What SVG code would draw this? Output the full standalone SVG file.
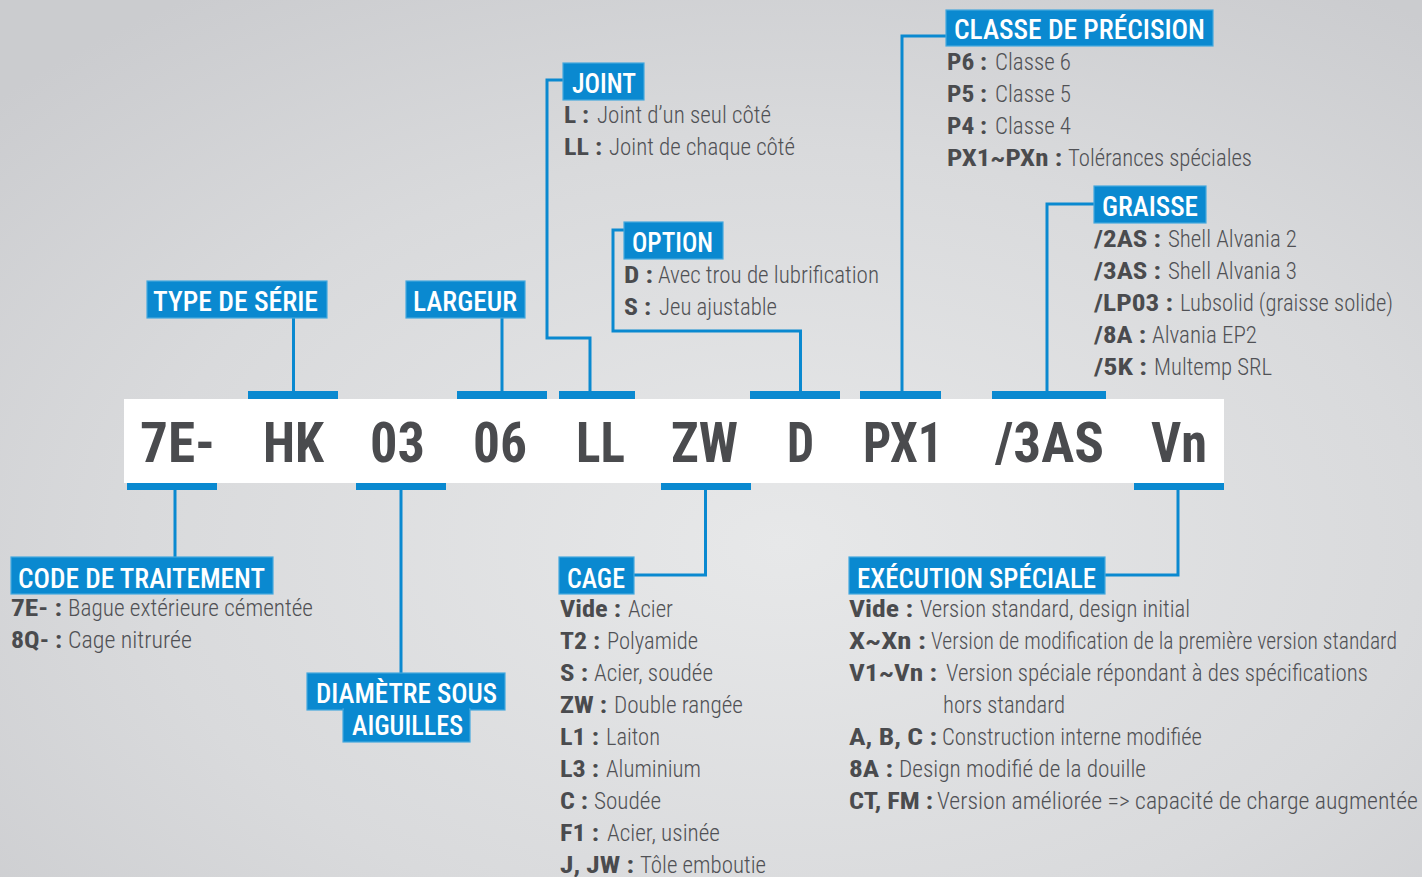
<svg xmlns="http://www.w3.org/2000/svg" width="1422" height="877" viewBox="0 0 1422 877">
<defs>
<radialGradient id="bg" cx="0.55" cy="0.62" r="0.75">
<stop offset="0" stop-color="#e7e8e9"/>
<stop offset="0.6" stop-color="#d9dadc"/>
<stop offset="1" stop-color="#cbcccf"/>
</radialGradient>
<style>
text{font-family:"Roboto Condensed","Liberation Sans Narrow",Roboto,"Liberation Sans",sans-serif;}
.box{fill:#0a89d0;stroke:#45a8de;stroke-width:1.2;}
.bar{fill:#0a89d0;}
.hdr{fill:#ffffff;font-size:28px;font-weight:500;}
.code{fill:#4a4b4e;font-size:56px;font-weight:700;}
.key{fill:#4a4b4e;font-size:23px;font-weight:700;}
.dsc{fill:#505155;font-size:23px;font-weight:300;}
.con{fill:none;stroke:#0a89d0;stroke-width:3;}
</style>
</defs>
<rect x="0" y="0" width="1422" height="877" fill="url(#bg)"/>

<g id="code-band">
<rect x="124" y="399" width="1100" height="84" fill="#ffffff"/>
<rect class="bar" x="248" y="391" width="90" height="8"/>
<rect class="bar" x="457" y="391" width="90" height="8"/>
<rect class="bar" x="559" y="391" width="76" height="8"/>
<rect class="bar" x="750" y="391" width="90" height="8"/>
<rect class="bar" x="860" y="391" width="81" height="8"/>
<rect class="bar" x="992" y="391" width="114" height="8"/>
<rect class="bar" x="127" y="483" width="90" height="7"/>
<rect class="bar" x="356" y="483" width="90" height="7"/>
<rect class="bar" x="661" y="483" width="90" height="7"/>
<rect class="bar" x="1134" y="483" width="90" height="7"/>
<text class="code" x="140" y="462" textLength="75" lengthAdjust="spacingAndGlyphs">7E-</text>
<text class="code" x="263" y="462" textLength="61" lengthAdjust="spacingAndGlyphs">HK</text>
<text class="code" x="370" y="462" textLength="55" lengthAdjust="spacingAndGlyphs">03</text>
<text class="code" x="473" y="462" textLength="54" lengthAdjust="spacingAndGlyphs">06</text>
<text class="code" x="576" y="462" textLength="49" lengthAdjust="spacingAndGlyphs">LL</text>
<text class="code" x="671" y="462" textLength="67" lengthAdjust="spacingAndGlyphs">ZW</text>
<text class="code" x="787" y="462" textLength="27" lengthAdjust="spacingAndGlyphs">D</text>
<text class="code" x="863" y="462" textLength="80" lengthAdjust="spacingAndGlyphs">PX1</text>
<text class="code" x="995" y="462" textLength="109" lengthAdjust="spacingAndGlyphs">/3AS</text>
<text class="code" x="1151" y="462" textLength="56" lengthAdjust="spacingAndGlyphs">Vn</text>
</g>

<g id="connectors">
<path class="con" d="M293.5 318 V392"/>
<path class="con" d="M502 318 V392"/>
<path class="con" d="M590 392 V338 H547 V80 H563"/>
<path class="con" d="M800.5 392 V331 H613 V230 H624"/>
<path class="con" d="M902 392 V36 H946"/>
<path class="con" d="M1047 392 V204 H1094"/>
<path class="con" d="M175 489 V557"/>
<path class="con" d="M401 489 V673"/>
<path class="con" d="M705.5 489 V575 H634"/>
<path class="con" d="M1178 489 V575 H1105"/>
</g>

<g id="type-serie">
<rect class="box" x="147" y="281" width="180" height="37"/>
<text class="hdr" x="153" y="311" textLength="165" lengthAdjust="spacingAndGlyphs">TYPE DE SÉRIE</text>
</g>

<g id="largeur">
<rect class="box" x="406" y="281" width="119" height="37"/>
<text class="hdr" x="413" y="311" textLength="104" lengthAdjust="spacingAndGlyphs">LARGEUR</text>
</g>

<g id="joint">
<rect class="box" x="563" y="63" width="81" height="37"/>
<text class="hdr" x="572" y="93" textLength="64" lengthAdjust="spacingAndGlyphs">JOINT</text>
<text class="key" x="564" y="123" textLength="25" lengthAdjust="spacingAndGlyphs">L :</text>
<text class="dsc" x="597" y="123" textLength="174" lengthAdjust="spacingAndGlyphs">Joint d’un seul côté</text>
<text class="key" x="564" y="155" textLength="38" lengthAdjust="spacingAndGlyphs">LL :</text>
<text class="dsc" x="609" y="155" textLength="186" lengthAdjust="spacingAndGlyphs">Joint de chaque côté</text>
</g>

<g id="option">
<rect class="box" x="624" y="222" width="99" height="37"/>
<text class="hdr" x="632" y="252" textLength="81" lengthAdjust="spacingAndGlyphs">OPTION</text>
<text class="key" x="624" y="283" textLength="29" lengthAdjust="spacingAndGlyphs">D :</text>
<text class="dsc" x="658" y="283" textLength="221" lengthAdjust="spacingAndGlyphs">Avec trou de lubrification</text>
<text class="key" x="624" y="315" textLength="27" lengthAdjust="spacingAndGlyphs">S :</text>
<text class="dsc" x="659" y="315" textLength="118" lengthAdjust="spacingAndGlyphs">Jeu ajustable</text>
</g>

<g id="classe-precision">
<rect class="box" x="946" y="10" width="267" height="36"/>
<text class="hdr" x="954" y="39" textLength="251" lengthAdjust="spacingAndGlyphs">CLASSE DE PRÉCISION</text>
<text class="key" x="947" y="70" textLength="40" lengthAdjust="spacingAndGlyphs">P6 :</text>
<text class="dsc" x="995" y="70" textLength="76" lengthAdjust="spacingAndGlyphs">Classe 6</text>
<text class="key" x="947" y="102" textLength="40" lengthAdjust="spacingAndGlyphs">P5 :</text>
<text class="dsc" x="995" y="102" textLength="76" lengthAdjust="spacingAndGlyphs">Classe 5</text>
<text class="key" x="947" y="134" textLength="40" lengthAdjust="spacingAndGlyphs">P4 :</text>
<text class="dsc" x="995" y="134" textLength="76" lengthAdjust="spacingAndGlyphs">Classe 4</text>
<text class="key" x="947" y="166" textLength="115" lengthAdjust="spacingAndGlyphs">PX1~PXn :</text>
<text class="dsc" x="1068" y="166" textLength="184" lengthAdjust="spacingAndGlyphs">Tolérances spéciales</text>
</g>

<g id="graisse">
<rect class="box" x="1094" y="186" width="112" height="37"/>
<text class="hdr" x="1102" y="216" textLength="96" lengthAdjust="spacingAndGlyphs">GRAISSE</text>
<text class="key" x="1094" y="247" textLength="67" lengthAdjust="spacingAndGlyphs">/2AS :</text>
<text class="dsc" x="1168" y="247" textLength="129" lengthAdjust="spacingAndGlyphs">Shell Alvania 2</text>
<text class="key" x="1094" y="279" textLength="67" lengthAdjust="spacingAndGlyphs">/3AS :</text>
<text class="dsc" x="1168" y="279" textLength="129" lengthAdjust="spacingAndGlyphs">Shell Alvania 3</text>
<text class="key" x="1094" y="311" textLength="79" lengthAdjust="spacingAndGlyphs">/LP03 :</text>
<text class="dsc" x="1180" y="311" textLength="213" lengthAdjust="spacingAndGlyphs">Lubsolid (graisse solide)</text>
<text class="key" x="1094" y="343" textLength="52" lengthAdjust="spacingAndGlyphs">/8A :</text>
<text class="dsc" x="1152" y="343" textLength="105" lengthAdjust="spacingAndGlyphs">Alvania EP2</text>
<text class="key" x="1094" y="375" textLength="53" lengthAdjust="spacingAndGlyphs">/5K :</text>
<text class="dsc" x="1154" y="375" textLength="118" lengthAdjust="spacingAndGlyphs">Multemp SRL</text>
</g>

<g id="code-traitement">
<rect class="box" x="11" y="557" width="262" height="37"/>
<text class="hdr" x="18" y="588" textLength="247" lengthAdjust="spacingAndGlyphs">CODE DE TRAITEMENT</text>
<text class="key" x="11" y="616" textLength="51" lengthAdjust="spacingAndGlyphs">7E- :</text>
<text class="dsc" x="68" y="616" textLength="245" lengthAdjust="spacingAndGlyphs">Bague extérieure cémentée</text>
<text class="key" x="11" y="648" textLength="51" lengthAdjust="spacingAndGlyphs">8Q- :</text>
<text class="dsc" x="68" y="648" textLength="124" lengthAdjust="spacingAndGlyphs">Cage nitrurée</text>
</g>

<g id="diametre">
<rect class="box" x="307" y="673" width="198" height="37"/>
<rect class="box" x="343" y="709" width="127" height="33"/>
<rect x="344" y="708" width="125" height="3" fill="#0a89d0"/>
<text class="hdr" x="316" y="703" textLength="181" lengthAdjust="spacingAndGlyphs">DIAMÈTRE SOUS</text>
<text class="hdr" x="352" y="735" textLength="111" lengthAdjust="spacingAndGlyphs">AIGUILLES</text>
</g>

<g id="cage">
<rect class="box" x="559" y="557" width="75" height="37"/>
<text class="hdr" x="567" y="588" textLength="58" lengthAdjust="spacingAndGlyphs">CAGE</text>
<text class="key" x="560" y="617" textLength="61" lengthAdjust="spacingAndGlyphs">Vide :</text>
<text class="dsc" x="628" y="617" textLength="45" lengthAdjust="spacingAndGlyphs">Acier</text>
<text class="key" x="560" y="649" textLength="40" lengthAdjust="spacingAndGlyphs">T2 :</text>
<text class="dsc" x="607" y="649" textLength="91" lengthAdjust="spacingAndGlyphs">Polyamide</text>
<text class="key" x="560" y="681" textLength="28" lengthAdjust="spacingAndGlyphs">S :</text>
<text class="dsc" x="594" y="681" textLength="119" lengthAdjust="spacingAndGlyphs">Acier, soudée</text>
<text class="key" x="560" y="713" textLength="47" lengthAdjust="spacingAndGlyphs">ZW :</text>
<text class="dsc" x="614" y="713" textLength="129" lengthAdjust="spacingAndGlyphs">Double rangée</text>
<text class="key" x="560" y="745" textLength="39" lengthAdjust="spacingAndGlyphs">L1 :</text>
<text class="dsc" x="606" y="745" textLength="54" lengthAdjust="spacingAndGlyphs">Laiton</text>
<text class="key" x="560" y="777" textLength="39" lengthAdjust="spacingAndGlyphs">L3 :</text>
<text class="dsc" x="606" y="777" textLength="95" lengthAdjust="spacingAndGlyphs">Aluminium</text>
<text class="key" x="560" y="809" textLength="28" lengthAdjust="spacingAndGlyphs">C :</text>
<text class="dsc" x="594" y="809" textLength="67" lengthAdjust="spacingAndGlyphs">Soudée</text>
<text class="key" x="560" y="841" textLength="39" lengthAdjust="spacingAndGlyphs">F1 :</text>
<text class="dsc" x="607" y="841" textLength="113" lengthAdjust="spacingAndGlyphs">Acier, usinée</text>
<text class="key" x="560" y="873" textLength="74" lengthAdjust="spacingAndGlyphs">J, JW :</text>
<text class="dsc" x="640" y="873" textLength="126" lengthAdjust="spacingAndGlyphs">Tôle emboutie</text>
</g>

<g id="execution-speciale">
<rect class="box" x="849" y="557" width="256" height="37"/>
<text class="hdr" x="857" y="588" textLength="239" lengthAdjust="spacingAndGlyphs">EXÉCUTION SPÉCIALE</text>
<text class="key" x="849" y="617" textLength="64" lengthAdjust="spacingAndGlyphs">Vide :</text>
<text class="dsc" x="920" y="617" textLength="270" lengthAdjust="spacingAndGlyphs">Version standard, design initial</text>
<text class="key" x="849" y="649" textLength="77" lengthAdjust="spacingAndGlyphs">X~Xn :</text>
<text class="dsc" x="931" y="649" textLength="466" lengthAdjust="spacingAndGlyphs">Version de modification de la première version standard</text>
<text class="key" x="849" y="681" textLength="88" lengthAdjust="spacingAndGlyphs">V1~Vn :</text>
<text class="dsc" x="946" y="681" textLength="422" lengthAdjust="spacingAndGlyphs">Version spéciale répondant à des spécifications</text>
<text class="dsc" x="943" y="713" textLength="122" lengthAdjust="spacingAndGlyphs">hors standard</text>
<text class="key" x="849" y="745" textLength="88" lengthAdjust="spacingAndGlyphs">A, B, C :</text>
<text class="dsc" x="942" y="745" textLength="260" lengthAdjust="spacingAndGlyphs">Construction interne modifiée</text>
<text class="key" x="849" y="777" textLength="44" lengthAdjust="spacingAndGlyphs">8A :</text>
<text class="dsc" x="899" y="777" textLength="247" lengthAdjust="spacingAndGlyphs">Design modifié de la douille</text>
<text class="key" x="849" y="809" textLength="84" lengthAdjust="spacingAndGlyphs">CT, FM :</text>
<text class="dsc" x="937" y="809" textLength="481" lengthAdjust="spacingAndGlyphs">Version améliorée =&gt; capacité de charge augmentée</text>
</g>
</svg>
